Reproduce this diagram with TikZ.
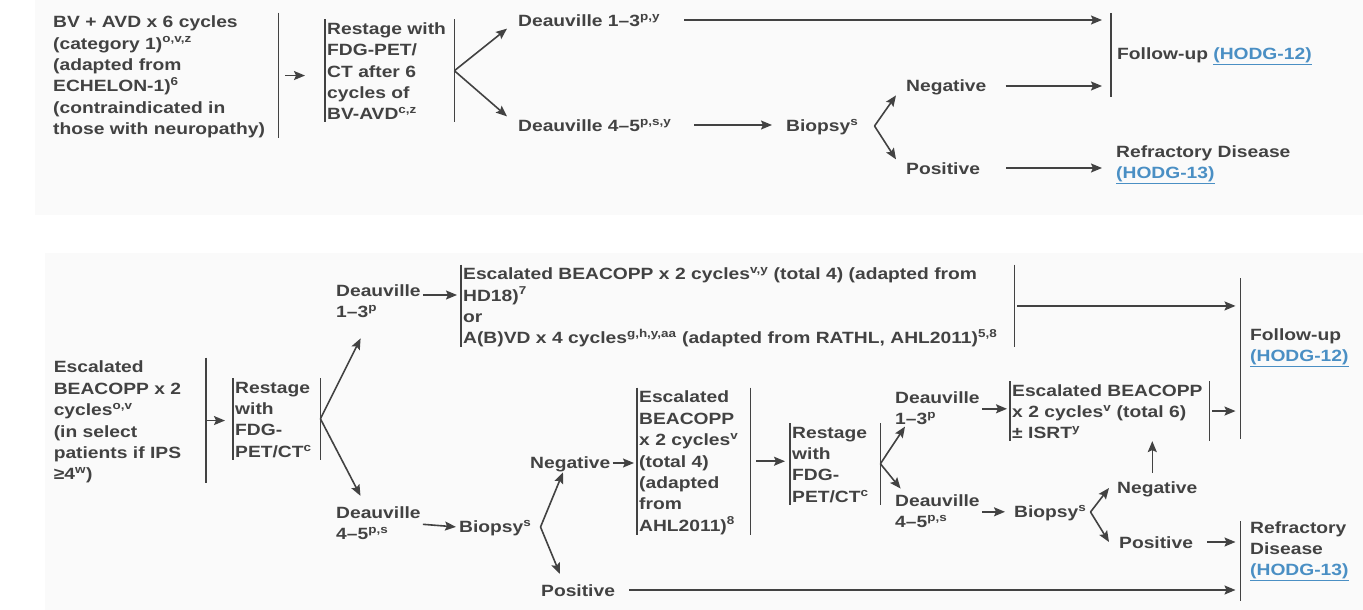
\documentclass[tikz,border=0pt]{standalone}
\usepackage{fontspec}
\setmainfont{Liberation Sans}[FakeStretch=1.18]
\usetikzlibrary{arrows.meta}
\definecolor{ink}{HTML}{424242}
\definecolor{linkblue}{HTML}{4A8FC4}
\definecolor{panel}{HTML}{FAFAFA}
\newcommand{\lnstrut}{\rule[-2pt]{0pt}{16.9pt}}
\newcommand{\lnk}[1]{\textcolor{linkblue}{\underline{#1}}}
\newcommand{\sups}[1]{\textsuperscript{#1}}
\begin{document}
\begin{tikzpicture}[x=1pt,y=-1pt,font=\fontsize{16.3}{21.4}\selectfont\bfseries]
    \tikzstyle{txt}=[anchor=west,inner xsep=2pt,inner ysep=0pt,align=left,text=ink,execute at begin node=\lnstrut,execute at end node=\lnstrut]
    \tikzstyle{box}=[txt,anchor=north west]
    \tikzstyle{fu}=[box,inner xsep=9.5pt]
    \tikzstyle{bar}=[ink,line width=1.7pt]
    \tikzstyle{arr}=[ink,line width=1.6pt,-{Stealth[length=11pt,width=9pt,inset=2pt]}]
    \useasboundingbox (0,0) rectangle (1363,610);
    \fill[white] (0,0) rectangle (1363,610);
    \fill[panel] (35,0) rectangle (1363,215);
    \fill[panel] (45,253) rectangle (1363,610);
    \node[box,text width=223pt] (t1) at (51,12.7) {BV + AVD x 6 cycles\\(category 1)\sups{o,v,z}\\(adapted from\\ECHELON-1)\sups{6}\\(contraindicated in\\those with neuropathy)};
    \node[box,text width=125pt] (t2) at (325,19.3) {Restage with\\FDG-PET/\\CT after 6\\cycles of\\BV-AVD\sups{c,z}};
    \node[txt] (d1) at (516,20) {Deauville 1–3\sups{p,y}};
    \node[txt] (d2) at (516,125) {Deauville 4–5\sups{p,s,y}};
    \node[txt] (b1) at (784,126) {Biopsy\sups{s}};
    \node[txt] (n1) at (904,86) {Negative};
    \node[txt] (p1) at (904,168) {Positive};
    \node[txt,minimum height=84pt,inner xsep=6pt] (f1) at (1111,55) {Follow-up \lnk{(HODG-12)}};
    \node[box] (r1) at (1114,145) {Refractory Disease\\\lnk{(HODG-13)}};
    \draw[bar] (t1.north east) -- (t1.south east);
    \draw[bar] (t2.north west) -- (t2.south west);
    \draw[bar] (t2.north east) -- (t2.south east);
    \draw[bar] (f1.north west) -- (f1.south west);
    \draw[arr,shorten <=7pt,shorten >=20pt] (t1.east) -- (t1.east -| t2.west);
    \draw[arr] (t2.east) -- ([xshift=-9pt]d1.south west);
    \draw[arr] (t2.east) -- ([xshift=-9pt]d2.north west);
    \draw[arr,shorten <=22pt,shorten >=9pt] (d1.east) -- (d1.east -| f1.west);
    \draw[arr,shorten <=21pt,shorten >=12pt] (d2.east) -- (d2.east -| b1.west);
    \draw[arr] ([xshift=14pt]b1.east) -- ([xshift=-8pt]n1.south west);
    \draw[arr] ([xshift=14pt]b1.east) -- ([xshift=-8pt]p1.north west);
    \draw[arr,shorten <=17pt,shorten >=9pt] (n1.east) -- (n1.east -| f1.west);
    \draw[arr,shorten <=24pt,shorten >=12pt] (p1.east) -- (p1.east -| r1.west);
    \node[box,text width=150pt] (a1) at (51.6,357.7) {Escalated\\BEACOPP x 2\\cycles\sups{o,v}\\(in select\\patients if IPS\\≥4\sups{w})};
    \node[box,text width=83pt] (a2) at (233,378) {Restage\\with\\FDG-\\PET/CT\sups{c}};
    \node[box] (u1) at (334,284) {Deauville\\1–3\sups{p}};
    \node[box] (l1) at (334,506.5) {Deauville\\4–5\sups{p,s}};
    \node[box,text width=549pt] (c1) at (461,264.5) {Escalated BEACOPP x 2 cycles\sups{v,y} (total 4) (adapted from\\HD18)\sups{7}\\or\\A(B)VD x 4 cycles\sups{g,h,y,aa} (adapted from RATHL, AHL2011)\sups{5,8}};
    \node[fu] (f2) at (1240.5,328) {Follow-up\\\lnk{(HODG-12)}};
    \node[txt] (b2) at (457,527) {Biopsy\sups{s}};
    \node[txt] (n2) at (528,463) {Negative};
    \node[txt] (p2) at (539,590) {Positive};
    \node[box,text width=109pt] (m1) at (637,387.7) {Escalated\\BEACOPP\\x 2 cycles\sups{v}\\(total 4)\\(adapted\\from\\AHL2011)\sups{8}};
    \node[box,text width=86pt] (m2) at (790,423) {Restage\\with\\FDG-\\PET/CT\sups{c}};
    \node[box] (u2) at (893,391) {Deauville\\1–3\sups{p}};
    \node[box] (l2) at (893,494) {Deauville\\4–5\sups{p,s}};
    \node[box,text width=195pt] (f3) at (1010,381) {Escalated BEACOPP\\x 2 cycles\sups{v} (total 6)\\± ISRT\sups{y}};
    \node[txt] (b3) at (1012,512) {Biopsy\sups{s}};
    \node[txt] (n3) at (1115,488) {Negative};
    \node[txt] (p3) at (1117,542) {Positive};
    \node[fu] (r2) at (1240.5,521) {Refractory\\Disease\\\lnk{(HODG-13)}};
    \draw[bar] (a1.north east) -- (a1.south east);
    \draw[bar] (a2.north west) -- (a2.south west);
    \draw[bar] (a2.north east) -- (a2.south east);
    \draw[bar] (c1.north west) -- (c1.south west);
    \draw[bar] (c1.north east) -- (c1.south east);
    \draw[bar] ([yshift=50pt]f2.north west) -- ([yshift=-72pt]f2.south west);
    \draw[bar] (m1.north west) -- (m1.south west);
    \draw[bar] (m1.north east) -- (m1.south east);
    \draw[bar] (m2.north west) -- (m2.south west);
    \draw[bar] (m2.north east) -- (m2.south east);
    \draw[bar] (f3.north west) -- (f3.south west);
    \draw[bar] (f3.north east) -- (f3.south east);
    \draw[bar] (r2.north west) -- ([yshift=-20pt]r2.south west);
    \draw[arr,shorten >=8pt] (a1.east) -- (a1.east -| a2.west);
    \draw[arr,shorten >=21pt] (a2.east) -- ([xshift=36pt]u1.south west);
    \draw[arr,shorten >=12pt] (a2.east) -- ([xshift=32pt]l1.north west);
    \coordinate (u1a) at ([yshift=-11pt]u1.north east);
    \draw[arr,shorten >=4pt] (u1a) -- (u1a -| c1.west);
    \draw[arr,shorten <=3pt,shorten >=5pt] (c1.east) -- (c1.east -| f2.west);
    \draw[arr,shorten >=1pt] (l1.east) -- (b2.west);
    \draw[arr] ([xshift=7pt]b2.east) -- ([xshift=35pt]n2.south west);
    \draw[arr,shorten >=8pt] ([xshift=7pt]b2.east) -- ([xshift=24pt]p2.north west);
    \draw[arr,shorten >=3pt] (n2.east) -- (n2.east -| m1.west);
    \draw[arr,shorten <=6pt,shorten >=5pt] (m1.east) -- (m1.east -| m2.west);
    \draw[arr] (m2.east) -- ([xshift=12pt]u2.south west);
    \draw[arr,shorten >=7pt] (m2.east) -- ([xshift=12pt]l2.north west);
    \draw[arr,shorten >=3pt] (u2.east) -- (u2.east -| f3.west);
    \draw[arr,shorten <=3pt,shorten >=5pt] (f3.east) -- (f3.east -| f2.west);
    \draw[arr,shorten >=7pt] (l2.east) -- (l2.east -| b3.west);
    \draw[arr] ([xshift=2pt]b3.east) -- ([xshift=-6pt]n3.west);
    \draw[arr] ([xshift=2pt]b3.east) -- ([xshift=-8pt]p3.west);
    \coordinate (n3a) at ([xshift=-5pt]n3.north);
    \draw[arr,shorten <=6pt] (n3a) -- (n3a |- f3.south);
    \draw[arr,shorten <=12pt,shorten >=5pt] (p3.east) -- (p3.east -| r2.west);
    \draw[arr,shorten <=12pt,shorten >=5pt] (p2.east) -- (p2.east -| r2.west);
\end{tikzpicture}
\end{document}
